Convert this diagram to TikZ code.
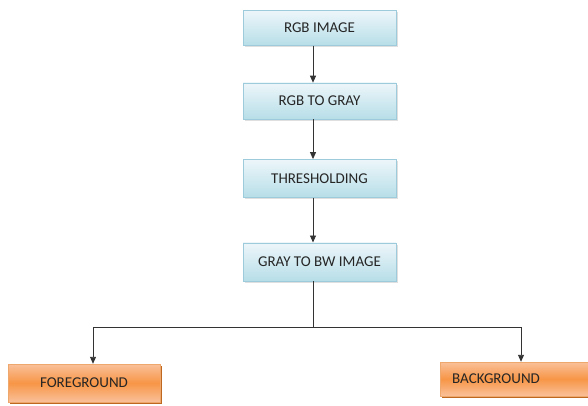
\documentclass[tikz,border=0pt]{standalone}
\usepackage{fontspec}
\setmainfont{Carlito}
\usetikzlibrary{arrows.meta,positioning,shadows}

\definecolor{bluetop}{HTML}{EDF6FA}
\definecolor{bluebot}{HTML}{B7DEE8}
\definecolor{blueline}{HTML}{9DCBDC}
\definecolor{orangelt}{HTML}{FAC09A}
\definecolor{orangemid}{HTML}{F79646}
\definecolor{orangeline}{HTML}{E36C0A}

\begin{document}
\begin{tikzpicture}[x=1pt, y=-1pt, >={Triangle[width=6pt,length=7pt]}, font=\fontsize{15}{18}\selectfont]
	    \tikzstyle{stepbox}=[draw=blueline, top color=bluetop, bottom color=bluebot, minimum width=153pt, inner sep=0pt, text=black!85, drop shadow={shadow xshift=2pt, shadow yshift=-2pt, opacity=0.25}]
	    \tikzstyle{outbox}=[draw=orangeline!60, top color=orangelt, bottom color=orangelt, middle color=orangemid, text=black!85, drop shadow={fill=orangeline!80!black, shadow xshift=1.5pt, shadow yshift=-1.5pt, opacity=0.9}]
	    \tikzstyle{link}=[line width=0.9pt, black!80]

	    \useasboundingbox (0,0) rectangle (588,406);

	    \node[stepbox, minimum height=35pt] (rgb) at (319.5,28) {RGB IMAGE};
	    \node[stepbox, minimum height=36pt] (gray) [below=37pt of rgb] {RGB TO GRAY};
	    \node[stepbox, minimum height=38pt] (thresh) [below=40pt of gray] {THRESHOLDING};
	    \node[stepbox, minimum height=38pt] (bw) [below=45pt of thresh] {GRAY TO BW IMAGE};
	    \node[outbox, minimum width=152pt, minimum height=38pt] (fg) at (84,383) {FOREGROUND};
	    \node[outbox, minimum height=34pt, anchor=west, text width=136pt, inner xsep=12pt, align=left] (bg) at (440,379) {BACKGROUND};
	    \coordinate (split) at (313,327);

	    \path[->, link]
	    ([xshift=-6.5pt]rgb.south)		edge	([xshift=-6.5pt]gray.north)
	    ([xshift=-6.5pt]gray.south)		edge	([xshift=-6.5pt]thresh.north)
	    ([xshift=-6.5pt]thresh.south)	edge	([xshift=-6.5pt]bw.north)
	    ;

	    \draw[link] ([xshift=-6.5pt]bw.south) -- (split);
	    \draw[->, link] (split) -| ([xshift=9pt]fg.north);
	    \draw[->, link] (split) -| ([xshift=81pt]bg.north west);

\end{tikzpicture}
\end{document}
